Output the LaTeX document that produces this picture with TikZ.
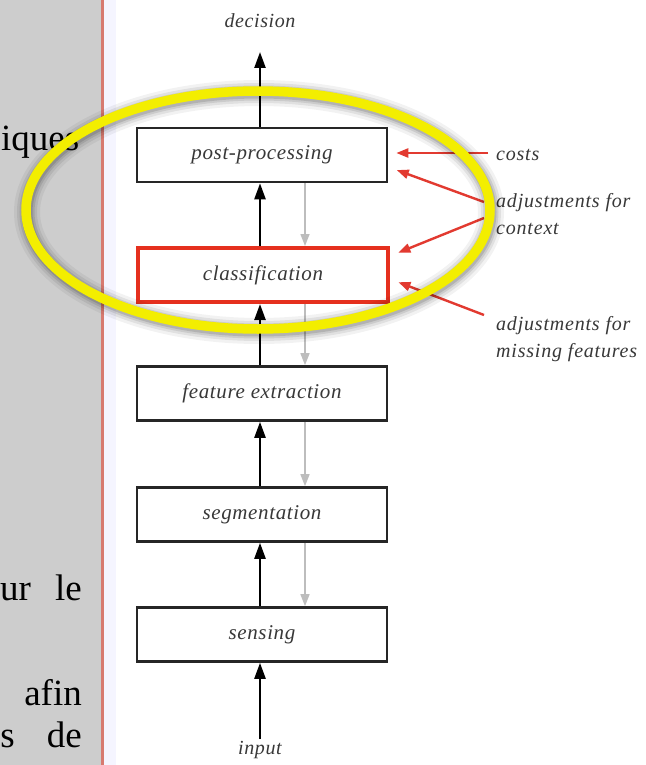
\documentclass[tikz,border=0pt]{standalone}
\usepackage{fontspec}
\setmainfont{Liberation Serif}
\usetikzlibrary{arrows.meta}
\definecolor{panel}{HTML}{CDCDCD}
\definecolor{margin}{HTML}{D77A70}
\definecolor{ink}{HTML}{383838}
\definecolor{boxline}{HTML}{262626}
\definecolor{hl}{HTML}{E5301E}
\definecolor{adj}{HTML}{E23A30}
\definecolor{back}{HTML}{BDBDBD}
\definecolor{marker}{HTML}{F3EE00}
\newfontfamily\labelfont[LetterSpace=3]{Liberation Serif}
\newfontfamily\sidefont[LetterSpace=4]{Liberation Serif}
\tikzset{
  stage/.style={draw=boxline, line width=2.6pt, minimum width=250pt, minimum height=54pt,
    inner sep=0pt, font=\labelfont\fontsize{21}{24}\selectfont\itshape, text=ink},
  hlstage/.style={stage, draw=hl, line width=4pt},
  flow/.style={draw=black, line width=2.4pt, -{Triangle[length=16pt,width=11pt]}},
  feedback/.style={draw=back, line width=1.4pt, -{Triangle[length=12pt,width=9pt]}},
  adjust/.style={draw=adj, line width=2.4pt, -{Triangle[length=12pt,width=9pt]}},
  endlabel/.style={font=\labelfont\fontsize{20}{23}\selectfont\itshape, text=ink, inner sep=0pt},
  sidelabel/.style={font=\sidefont\fontsize{20}{27}\selectfont\itshape, text=ink, inner sep=0pt, align=left, anchor=west},
  bodytext/.style={font=\fontsize{37}{40}\selectfont, text=black, inner sep=0pt, anchor=base east}
}
\begin{document}
\begin{tikzpicture}[x=1pt,y=-1pt]
  \useasboundingbox (0,0) rectangle (645,765);
  \fill[white] (0,0) rectangle (645,765);
  % page margin on the left
  \fill[panel] (0,0) rectangle (101,765);
  \fill[blue!4] (104,0) rectangle (116,765);
  \node[bodytext, anchor=base west] (w1) at (1,150) {iques};
  \node[bodytext, anchor=base west] (w2a) at (0,600) {ur};
  \node[bodytext] (w2b) at (82,600) {le};
  \node[bodytext] (w3) at (82,705) {afin};
  \node[bodytext] (w4a) at (15,747) {s};
  \node[bodytext] (w4b) at (82,747) {de};
  \draw[margin, line width=3pt] (102.5,0) -- (102.5,765);

  % processing chain
  \node[stage]   (post)  at (262,155)   {post-processing};
  \node[hlstage] (class) at (263,275)   {classification};
  \node[stage]   (feat)  at (262,393.5) {feature extraction};
  \node[stage]   (seg)   at (262,514.5) {segmentation};
  \node[stage]   (sens)  at (262,634.5) {sensing};
  \node[endlabel] (dec) at (260,21)  {decision};
  \node[endlabel] (inp) at (260,750) {input};

  \coordinate (ax) at (260,0);
  \coordinate (gx) at (305,0);

  % forward flow
  \draw[flow] (inp.north |- 0,739) -- (ax |- sens.south);
  \draw[flow] (ax |- sens.north) -- (ax |- seg.south);
  \draw[flow] (ax |- seg.north) -- (ax |- feat.south);
  \draw[flow] (ax |- feat.north) -- (ax |- class.south);
  \draw[flow] (ax |- class.north) -- (ax |- post.south);
  \draw[flow] (ax |- post.north) -- (ax |- 0,52) coordinate (dtip);

  % feedback
  \draw[feedback] (gx |- post.south) -- (gx |- class.north);
  \draw[feedback] (gx |- class.south) -- (gx |- feat.north);
  \draw[feedback] (gx |- feat.south) -- (gx |- seg.north);
  \draw[feedback] (gx |- seg.south) -- (gx |- sens.north);

  % side inputs
  \node[sidelabel] (costs) at (496,155) {costs};
  \node[sidelabel] (ctx)   at (496,214) {adjustments for\\context};
  \node[sidelabel] (miss)  at (496,339) {adjustments for\\missing features};
  \coordinate (c0) at (488,153);
  \coordinate (c1) at (484,202);
  \coordinate (c2) at (484,218);
  \coordinate (c3) at (484,315);
  \draw[adjust, shorten >=8pt] (c0) -- (post.east |- 0,153);
  \draw[adjust, shorten >=9pt] (c1) -- (post.east |- 0,167);
  \draw[adjust, shorten >=9pt] (c2) -- (class.east |- 0,256);
  \draw[adjust, shorten >=9pt] (c3) -- (class.east |- 0,279);

  % highlight ring with soft shadow
  \foreach \w/\o in {26/0.05,20/0.07,15/0.09,11/0.12}
    \draw[black, opacity=\o, line width=\w pt] (259,212) ellipse [x radius=232, y radius=119];
  \draw[marker, line width=9.5pt] (258,210) ellipse [x radius=232, y radius=119];
\end{tikzpicture}
\end{document}
